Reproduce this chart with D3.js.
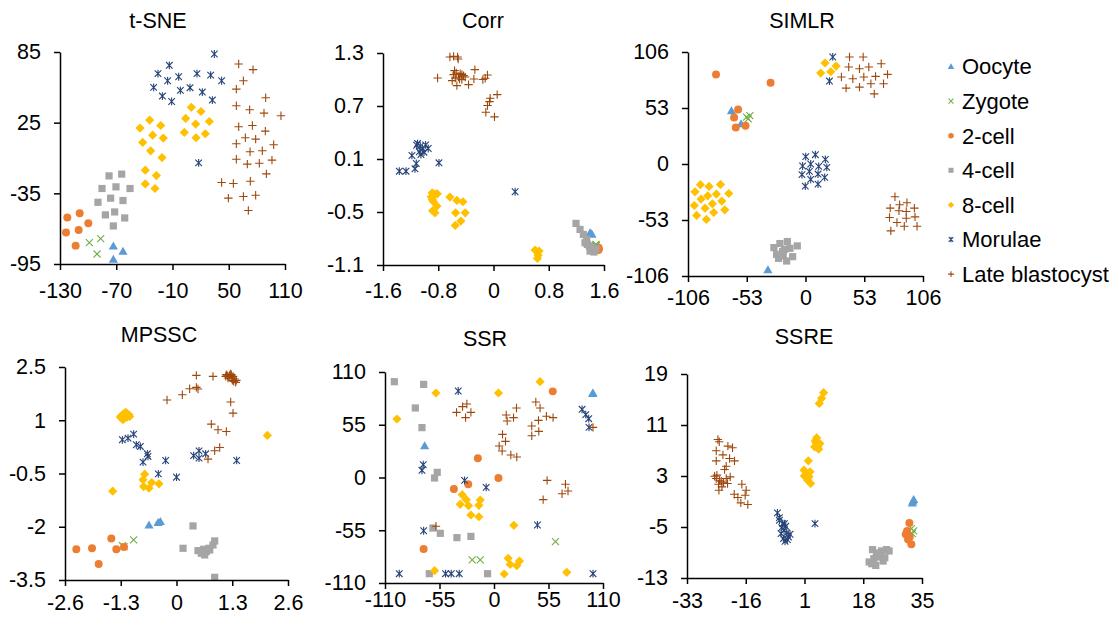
<!DOCTYPE html>
<html>
<head>
<meta charset="utf-8">
<script src="https://cdn.jsdelivr.net/npm/d3@7"></script>
<style>
  html, body { margin: 0; padding: 0; background: #fff; }
  svg { display: block; font-family: Arial, "Liberation Sans", sans-serif; }
</style>
</head>
<body>
<svg id="chart" width="1113" height="617"></svg>
<script>
(function () {
  // stages, in series order
  const STAGES = ['Oocyte', 'Zygote', '2-cell', '4-cell', '8-cell', 'Morulae', 'Late blastocyst'];
  const COLORS = ['#5B9BD5', '#70AD47', '#ED7D31', '#A5A5A5', '#FFC000', '#264478', '#9E480E'];
  const SHAPES = ['triangle', 'x', 'circle', 'square', 'diamond', 'star', 'plus'];

  // t-SNE points per stage
  const tsne = [
    [[-73.1, -79.7], [-62.8, -84.2], [-73.1, -91]],
    [[-98.7, -76.8], [-86.6, -73.4], [-90.5, -86.5]],
    [[-122.2, -55.6], [-109, -51.9], [-99.8, -60.4], [-123.6, -68.3], [-110.1, -66.1], [-113.3, -79.4]],
    [[-77.7, -20.2], [-64.2, -18.7], [-85.2, -30.9], [-70.3, -29.5], [-55.3, -30.9], [-89.5, -42.6],
     [-76, -39.1], [-62.8, -41.1], [-81.6, -53.3], [-71.7, -50.8], [-61, -55.9], [-73.1, -62.7]],
    [[-44.7, 20.4], [-34.4, 27.2], [-22.6, 22.6], [-41.8, 8.2], [-31.2, 14.4], [-19.8, 11.9], [-33.3, 1.1],
     [-21.2, -4.6], [-39, -15.3], [-27.2, -19.9], [-39, -27], [-28.7, -30.9], [10.1, 38], [20.4, 34.5],
     [4, 28.6], [14.7, 23.8], [29.3, 26], [2.6, 16.7], [15.1, 12.2], [25, 15.6]],
    [[34.6, 83.3], [-13.4, 73.7], [-25.5, 66.6], [-3.4, 64], [16.1, 66.6], [30.7, 65.4], [42.4, 60.6],
     [-15.2, 60.6], [-30.1, 55], [-1.6, 52.4], [8.7, 54.7], [21.8, 51], [-20.8, 47.6], [-10.9, 43],
     [32.5, 44.2], [17.9, -9.1]],
    [[60.6, 74.8], [75.9, 70], [65.6, 60.6], [58.1, 53.5], [89.4, 46.2], [58.1, 39.4], [72.3, 36],
     [87.6, 33.1], [105.7, 30.9], [60.6, 21.5], [75.2, 22.6], [89, 17.8], [67.7, 12.2], [78.7, 11],
     [58.1, 7.1], [72.7, 0.3], [85.8, 1.1], [97.9, 6.2], [58.1, -6], [69.8, -10.2], [82.6, -9.4],
     [96.1, -6.8], [73, -24.7], [90.1, -18.5], [42.4, -25.8], [54.9, -26.7], [49.6, -39.1],
     [65.6, -37.7], [78.7, -36.6], [70.9, -49.6]]
  ];

  const corr = [
    [[1.412, -0.742], [1.426, -0.753], [1.398, -0.735]],
    [[1.484, -0.867], [1.49, -0.88], [1.478, -0.875]],
    [[1.518, -0.915], [1.522, -0.905], [1.512, -0.925], [1.525, -0.92], [1.515, -0.91], [1.52, -0.93]],
    [[1.195, -0.629], [1.253, -0.697], [1.301, -0.754], [1.349, -0.81], [1.325, -0.848], [1.388, -0.885],
     [1.436, -0.931], [1.455, -0.953], [1.398, -0.942], [1.359, -0.867], [1.422, -0.904], [1.484, -0.915]],
    [[-0.887, -0.283], [-0.843, -0.298], [-0.814, -0.294], [-0.901, -0.328], [-0.887, -0.358],
     [-0.872, -0.381], [-0.882, -0.486], [-0.848, -0.509], [-0.819, -0.433], [-0.631, -0.331],
     [-0.53, -0.369], [-0.443, -0.384], [-0.549, -0.509], [-0.41, -0.509], [-0.472, -0.603],
     [-0.554, -0.652], [0.602, -0.931], [0.66, -0.942], [0.646, -0.991], [0.636, -1.025]],
    [[-1.364, -0.038], [-1.267, -0.038], [-1.137, -0.011], [-1.118, 0.049], [-1.181, 0.14], [-1.113, 0.256],
     [-1.099, 0.275], [-1.051, 0.151], [-1.007, 0.177], [-1.027, 0.215], [-1.06, 0.245], [-0.983, 0.26],
     [-0.945, 0.219], [-1.075, 0.181], [-0.79, 0.057], [0.313, -0.271]],
    [[-0.631, 1.255], [-0.52, 1.255], [-0.511, 1.232], [-0.564, 1.1], [-0.54, 1.074], [-0.598, 0.987],
     [-0.482, 1.066], [-0.434, 1.044], [-0.458, 0.999], [-0.53, 0.931], [-0.361, 0.942], [-0.506, 1.029],
     [-0.284, 1.006], [-0.27, 1.112], [-0.154, 1.0], [-0.087, 1.051], [-0.12, 1.014], [-0.81, 1.017],
     [-0.048, 0.788], [-0.058, 0.75], [-0.087, 0.705], [-0.111, 0.629], [0.014, 0.577], [0.053, 0.829],
     [-0.554, 1.017], [-0.458, 1.055], [-0.578, 1.055], [-0.41, 1.029], [-0.492, 1.006], [-0.578, 1.262]]
  ];

  const simlr = [
    [[-66.8, 50.3], [-58.1, 38], [-33.9, -100]],
    [[-53.2, 44.3], [-50.2, 45.8], [-51.7, 42.7]],
    [[-80.7, 84.8], [-31.5, 76.9], [-60.8, 51.6], [-64.4, 44], [-62.9, 34.5], [-54.1, 36.1]],
    [[-23.1, -75.3], [-16.4, -73.4], [-28.5, -79.1], [-18.8, -80.7], [-7.4, -77.5], [-26.1, -85.5],
     [-20.1, -87], [-14, -79.8], [-11.6, -87.7], [-24.3, -89.3], [-17, -91.8], [-20.7, -82.9]],
    [[17.6, 95.6], [27.6, 92.7], [13.7, 86.1], [22.8, 87.3], [-94.8, -19.6], [-87, -21.2], [-76.7, -19.3],
     [-99.7, -26.3], [-69.2, -27.9], [-94.2, -33.2], [-88.2, -30.1], [-80.4, -28.5], [-100.3, -39.3],
     [-84, -37.7], [-75.5, -35.1], [-90.6, -41.8], [-72.8, -43.4], [-82.8, -45.9], [-98.2, -48.7],
     [-89.4, -52.5]],
    [[24.6, 101.3], [21.6, 78.5], [0.2, 7], [8.9, 8.8], [17.9, 4.4], [-2.6, -1.9], [4.7, 0], [11.9, -2.2],
     [19.2, -3.2], [-3.2, -10.1], [3.5, -7], [11.3, -9.5], [17.3, -12.7], [4.7, -14.6], [-0.2, -20.9],
     [11.3, -19]],
    [[39.7, 101.3], [52, 101.3], [68.3, 94.9], [39, 91.8], [48.7, 90.2], [57.1, 91.8], [32.4, 82.3],
     [42.7, 80.7], [52.6, 82.3], [63.2, 82.9], [74, 84.8], [36.6, 71.8], [48.7, 72.8], [59, 75.9],
     [70.4, 75.9], [62, 66.4], [80.7, -31], [76.4, -41.8], [84.9, -38.6], [91.5, -36.7], [98.2, -41.8],
     [84.3, -44.3], [90.9, -44.9], [75.8, -50.6], [82.5, -55.4], [90.9, -51.3], [98.8, -50],
     [89.1, -58.9], [100.6, -58.9], [77, -63.3]]
  ];

  const mpssc = [
    [[-0.641, -1.948], [-0.431, -1.883], [-0.377, -1.854]],
    [[-0.999, -2.372], [-1.263, -2.531], [-1.224, -2.559]],
    [[-2.336, -2.635], [-1.97, -2.607], [-1.815, -3.049], [-1.52, -2.334], [-1.403, -2.635], [-1.224, -2.569]],
    [[0.385, -1.977], [0.152, -2.607], [0.501, -2.673], [0.579, -2.748], [0.657, -2.795], [0.696, -2.701],
     [0.758, -2.607], [0.851, -2.513], [0.89, -2.4], [0.774, -2.654], [0.634, -2.635], [0.89, -3.425]],
    [[-1.286, 1.127], [-1.232, 1.183], [-1.185, 1.221], [-1.131, 1.155], [-1.092, 1.108], [-1.263, 1.061],
     [-1.209, 1.108], [-1.154, 1.089], [-1.248, 1.014], [-1.17, 1.202], [-1.108, 1.155], [-1.31, 1.089],
     [-0.742, -0.519], [-0.781, -0.679], [-0.766, -0.867], [-0.641, -0.914], [-0.579, -0.754],
     [-0.408, -0.792], [-1.488, -0.999], [2.118, 0.572]],
    [[-1.263, 0.45], [-1.131, 0.497], [-0.999, 0.61], [-0.937, 0.309], [-0.843, 0.262], [-0.68, 0.055],
     [-0.665, -0.02], [-0.781, -0.18], [-0.253, -0.133], [-0.424, -0.51], [0.0, -0.604], [0.4, 0.002],
     [0.525, 0.139], [0.525, -0.067], [0.68, 0.055], [1.403, -0.133]],
    [[0.463, 2.265], [0.851, 2.237], [0.307, 1.889], [0.463, 1.926], [0.501, 1.879], [0.136, 1.719],
     [-0.221, 1.569], [1.162, 2.284], [1.24, 2.265], [1.318, 2.237], [1.356, 2.161], [1.38, 2.067],
     [1.279, 2.284], [1.201, 2.19], [1.302, 2.124], [1.263, 1.513], [1.318, 1.202], [0.812, 0.892],
     [0.968, 0.732], [1.162, 0.685], [1.007, 0.233], [0.89, 0.139], [0.735, -0.096], [1.224, 2.237],
     [1.333, 2.096], [1.294, 2.19], [1.186, 2.255], [1.395, 2.124], [1.147, 2.237], [1.255, 2.303]]
  ];

  const ssr = [
    [[-70, 33.2], [99.9, 88.1], [99.5, 87.5]],
    [[-22, -86], [-13.9, -86], [62, -66.9]],
    [[59.3, 89.8], [-16.3, 20], [4.5, -0.5], [-40.5, -12], [-26, -7.1], [-71, -74.6]],
    [[-100.6, 99.9], [-71, 97.1], [-79.4, 72.5], [-72.7, 52], [-60, -0.5], [-57.3, 5.4], [-61.6, -52.7],
     [-54.2, -58.2], [-37.4, -62.7], [-23.3, -61.4], [-65.3, -100.3], [-6.5, -100.3]],
    [[-97.9, 61], [-58.6, 88.1], [4.5, 88.1], [46.5, 99.9], [-32.1, -17.9], [-28, -23.1], [-34.1, -28],
     [-25.7, -29.4], [-13.9, -23.5], [-15.3, -29], [-23.3, -39.1], [-15.3, -40.9], [20, -49.9],
     [-60, -97.2], [10.3, -100.6], [14.3, -84.3], [16.3, -90.6], [23, -91.9], [25.7, -87.1], [73.4, -98.9]],
    [[-36.1, 90.2], [-71.4, 13.4], [-72.7, 7.5], [-29.7, -3], [-7.9, -10.3], [-71, -55.5], [-95.6, -100.3],
     [-48.9, -100.3], [-43.2, -100.3], [-35.1, -100.3], [43.8, -49.5], [88.9, 71.1], [92.6, 65.5],
     [95.6, 61.3], [95.9, 52.3], [99.9, -100.3]],
    [[-37.8, 67.9], [-31.7, 73.9], [-27.4, 76.6], [-23.3, 67.9], [-28.7, 62.4], [22.7, 72.5], [12.3, 65.2],
     [19.7, 62.4], [13.3, 58.9], [42.2, 78.7], [46.5, 72.5], [44.9, 59.6], [52.9, 63.8], [59.6, 62.4],
     [38.1, 53.7], [38.1, 43.6], [45.2, 48.1], [8.6, 45], [11.6, 37.7], [5.2, 32.8], [8.2, 27.6],
     [17, 23.5], [23, 21.4], [53.6, -3], [72.1, -7.1], [74.7, -14.1], [68.7, -16.9], [49.6, -23.1],
     [-58.6, -50.9], [99.9, 52.3]]
  ];

  const ssre = [
    [[32.4, -0.91], [32.2, -1.22], [32.6, -0.7]],
    [[31.92, -5.25], [32.6, -5.62], [32.21, -6.04]],
    [[31.35, -4.36], [30.29, -6.14], [30.96, -6.98], [31.92, -7.72], [30.67, -5.62], [31.44, -6.56]],
    [[20.67, -8.55], [21.82, -9.08], [23.27, -8.76], [24.71, -8.55], [25.48, -8.76], [24.23, -9.81],
     [22.79, -9.71], [21.05, -9.97], [19.71, -10.49], [21.63, -11.02], [23.75, -10.34], [20.48, -10.76]],
    [[6.53, 16.07], [5.95, 15.18], [5.28, 14.39], [4.51, 8.99], [4.32, 8.21], [4.99, 7.84], [3.93, 7.58],
     [5.47, 8.1], [4.8, 7.48], [4.13, 8.52], [2.11, 5.38], [0.86, 3.91], [1.63, 3.39], [2.59, 3.65],
     [1.14, 3.08], [1.91, 2.34], [2.78, 1.82], [0.95, 3.0], [2.3, 2.9], [5.1, 7.2]],
    [[-6.84, -2.79], [-6.26, -3.53], [-4.82, -4.47], [-5.59, -5.1], [-4.92, -5.52], [-4.15, -5.93],
     [-3.66, -6.56], [-5.11, -6.83], [-4.63, -7.24], [-3.18, -6.14], [-5.78, -6.04], [-4.43, -4.89],
     [-6.26, -3.95], [-5.3, -4.47], [-3.95, -6.98], [4.03, -4.47]],
    [[-24.06, 8.73], [-23.67, 8.37], [-24.54, 6.95], [-21.17, 7.69], [-19.82, 7.42], [-22.61, 6.32],
     [-24.54, 5.38], [-20.69, 5.75], [-19.25, 5.38], [-21.65, 4.54], [-22.13, 4.02], [-24.34, 3.13],
     [-25.02, 2.97], [-23.57, 2.34], [-21.65, 2.6], [-20.5, 2.87], [-22.42, 1.92], [-23.77, 0.77],
     [-22.9, 1.29], [-23.86, 1.71], [-17.13, 1.71], [-15.88, 0.77], [-16.17, -0.02], [-19.34, 0.14],
     [-18.28, -0.38], [-17.42, -1.22], [-15.4, -1.48], [-23.09, 2.18], [-21.27, 1.82], [-24.54, 2.6]]
  ];

  const tsneX = [-130, -70, -10, 50, 110], tsneY = [-95, -35, 25, 85];
  const corrX = [-1.6, -0.8, 0, 0.8, 1.6], corrY = [-1.1, -0.5, 0.1, 0.7, 1.3];
  const simlrX = [-106, -53, 0, 53, 106], simlrY = [-106, -53, 0, 53, 106];
  const mpsscX = [-2.6, -1.3, 0, 1.3, 2.6], mpsscY = [-3.5, -2, -0.5, 1, 2.5];
  const ssrX = [-110, -55, 0, 55, 110], ssrY = [-110, -55, 0, 55, 110];
  const ssreX = [-33, -16, 1, 18, 35], ssreY = [-13, -5, 3, 11, 19];

  // layout: plot box, title position, gap from axis to x label tops
  const panels = [
    { title: 't-SNE', data: tsne, xt: tsneX, yt: tsneY, l: 60, r: 285, t: 52, b: 264, tx: 158, ty: 28, lab: 19 },
    { title: 'Corr', data: corr, xt: corrX, yt: corrY, l: 383, r: 604, t: 53, b: 265, tx: 483, ty: 28, lab: 18 },
    { title: 'SIMLR', data: simlr, xt: simlrX, yt: simlrY, l: 688, r: 923, t: 52, b: 276, tx: 802, ty: 28, lab: 14 },
    { title: 'MPSSC', data: mpssc, xt: mpsscX, yt: mpsscY, l: 65, r: 288, t: 367, b: 580, tx: 159, ty: 342, lab: 15 },
    { title: 'SSR', data: ssr, xt: ssrX, yt: ssrY, l: 385, r: 603, t: 372, b: 583, tx: 485, ty: 346, lab: 9 },
    { title: 'SSRE', data: ssre, xt: ssreX, yt: ssreY, l: 687, r: 922, t: 374, b: 578, tx: 804, ty: 344, lab: 15 }
  ];

  const svg = d3.select('#chart');

  function markerPath(shape) {
    switch (shape) {
      case 'triangle': return 'M0,-4.5L4.6,3.5L-4.6,3.5Z';
      case 'circle': return d3.symbol(d3.symbolCircle, 50)();
      case 'square': return 'M-3.6,-3.6H3.6V3.6H-3.6Z';
      case 'diamond': return 'M0,-4.6L4.6,0L0,4.6L-4.6,0Z';
      case 'x': return 'M-3.5,-3.5L3.5,3.5M-3.5,3.5L3.5,-3.5';
      case 'star': return 'M-3.3,-3.3L3.3,3.3M-3.3,3.3L3.3,-3.3M0,-3.9V3.9';
      case 'plus': return 'M-4.2,0H4.2M0,-4.2V4.2';
    }
  }

  function isLine(shape) {
    return shape === 'x' || shape === 'star' || shape === 'plus';
  }

  panels.forEach(function (p) {
    const x = d3.scaleLinear().domain([p.xt[0], p.xt[p.xt.length - 1]]).range([p.l, p.r]);
    const y = d3.scaleLinear().domain([p.yt[0], p.yt[p.yt.length - 1]]).range([p.b, p.t]);

    const g = svg.append('g');

    p.data.forEach(function (pts, i) {
      const shape = SHAPES[i];
      const sel = g.append('g').selectAll('path')
        .data(pts)
        .join('path')
        .attr('d', markerPath(shape))
        .attr('transform', function (d) { return 'translate(' + x(d[0]) + ',' + y(d[1]) + ')'; });
      if (isLine(shape)) {
        sel.attr('fill', 'none').attr('stroke', COLORS[i]).attr('stroke-width', 1.1);
      } else {
        sel.attr('fill', COLORS[i]);
      }
    });

    const xAxis = g.append('g')
      .attr('transform', 'translate(0,' + p.b + ')')
      .call(d3.axisBottom(x).tickValues(p.xt).tickFormat(String).tickSizeInner(6).tickSizeOuter(0).tickPadding(p.lab - 6));
    const yAxis = g.append('g')
      .attr('transform', 'translate(' + p.l + ',0)')
      .call(d3.axisLeft(y).tickValues(p.yt).tickFormat(String).tickSizeInner(6).tickSizeOuter(0).tickPadding(13));

    [xAxis, yAxis].forEach(function (a) {
      a.select('.domain').attr('stroke', '#000').attr('stroke-width', 1.5);
      a.selectAll('.tick line').attr('stroke', '#000').attr('stroke-width', 1.5);
      a.selectAll('.tick text')
        .attr('fill', '#000')
        .style('font-size', '21.5px')
        .style('font-family', 'Arial, "Liberation Sans", sans-serif');
    });

    svg.append('text')
      .attr('x', p.tx)
      .attr('y', p.ty)
      .attr('text-anchor', 'middle')
      .attr('fill', '#000')
      .style('font-size', '21.5px')
      .text(p.title);
  });

  // legend
  const legend = svg.append('g');
  STAGES.forEach(function (name, i) {
    const cy = 66.5 + i * 34.6;
    const shape = SHAPES[i];
    const m = legend.append('path')
      .attr('d', markerPath(shape))
      .attr('transform', 'translate(951,' + cy + ') scale(0.7)');
    if (isLine(shape)) {
      m.attr('fill', 'none').attr('stroke', COLORS[i]).attr('stroke-width', 1.5);
    } else {
      m.attr('fill', COLORS[i]);
    }
    legend.append('text')
      .attr('x', 962)
      .attr('y', cy + 7.8)
      .attr('fill', '#000')
      .style('font-size', '22px')
      .text(name);
  });
})();
</script>
</body>
</html>
